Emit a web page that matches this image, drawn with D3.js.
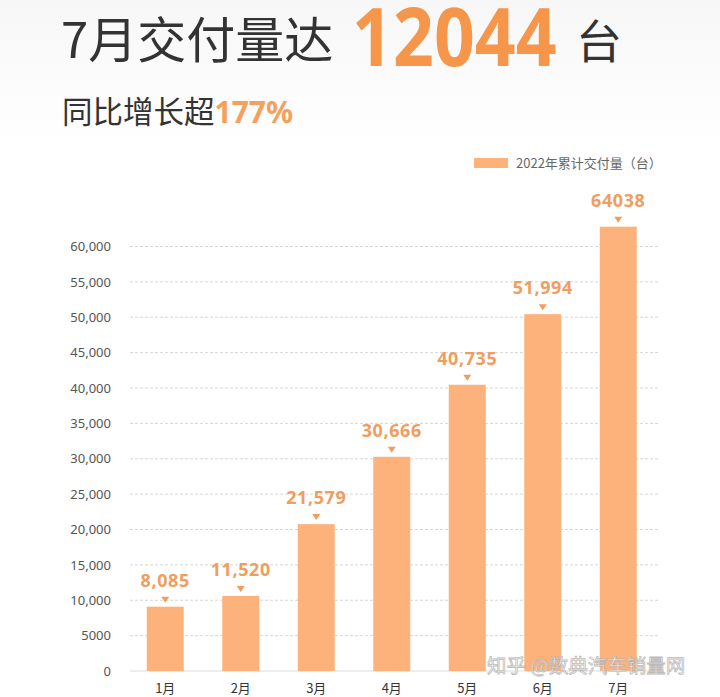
<!DOCTYPE html>
<html>
<head>
<meta charset="utf-8">
<script src="https://cdn.jsdelivr.net/npm/d3@7"></script>
<style>
  html, body { margin: 0; padding: 0; background: #fff; }
  svg { display: block; font-family: 'Noto Sans CJK SC', 'Noto Sans', sans-serif; }
</style>
</head>
<body>
<svg id="chart"></svg>
<script>
'use strict';

/*
    Data
*/

const MONTHS = ['1月', '2月', '3月', '4月', '5月', '6月', '7月'];

// bar heights as drawn in the picture (they do not quite match the printed labels)
const BAR_VALUES = [9090, 10600, 20760, 30280, 40460, 50430, 62800];

// labels printed above the bars
const BAR_LABELS = ['8,085', '11,520', '21,579', '30,666', '40,735', '51,994', '64038'];

const Y_TICKS = [0, 5000, 10000, 15000, 20000, 25000, 30000, 35000, 40000, 45000, 50000, 55000, 60000];
const Y_TICK_LABELS = ['0', '5000', '10,000', '15,000', '20,000', '25,000', '30,000',
                       '35,000', '40,000', '45,000', '50,000', '55,000', '60,000'];

const LEGEND_TEXT = '2022年累计交付量（台）';

/*
    Constants
*/

const WIDTH  = 720;
const HEIGHT = 697;

const PLOT = Object.freeze({
    LEFT   : 130,
    RIGHT  : 660,
    TOP    : 246.5,
    BOTTOM : 671
});

const BAR_COLOR   = '#FDB27C';
const LABEL_COLOR = '#EF9E60';

const SVG = d3.select('#chart')
    .attr('width', WIDTH)
    .attr('height', HEIGHT);

/*
    Background
*/

const defs = SVG.append('defs');
const grad = defs.append('linearGradient')
    .attr('id', 'bg')
    .attr('x1', 0).attr('y1', 0).attr('x2', 0).attr('y2', 1);
grad.append('stop').attr('offset', 0).attr('stop-color', '#f7f7f7');
grad.append('stop').attr('offset', 1).attr('stop-color', '#ffffff');

SVG.append('rect')
    .attr('width', WIDTH)
    .attr('height', 150)
    .attr('fill', 'url(#bg)');

/*
    Titles
*/

SVG.append('text')
    .attr('x', 61)
    .attr('y', 58)
    .attr('fill', '#333')
    .attr('font-size', 49)
    .text('7月交付量达');

// big number, squeezed horizontally like the condensed face in the picture
SVG.append('text')
    .attr('transform', 'translate(352,66) scale(0.895,1)')
    .attr('font-size', 80)
    .attr('font-weight', 700)
    .attr('font-family', 'Noto Sans, sans-serif')
    .attr('fill', '#F5964B')
    .text('12044');

SVG.append('text')
    .attr('x', 576)
    .attr('y', 58)
    .attr('fill', '#333')
    .attr('font-size', 46)
    .text('台');

const subtitle = SVG.append('text')
    .attr('x', 62)
    .attr('y', 123)
    .attr('fill', '#333')
    .attr('font-size', 30.5);

subtitle.append('tspan').text('同比增长超');
subtitle.append('tspan')
    .attr('fill', '#F5A05C')
    .attr('font-weight', 700)
    .attr('font-family', 'Noto Sans, sans-serif')
    .attr('font-size', 30)
    .text('177%');

/*
    Legend
*/

SVG.append('rect')
    .attr('x', 474)
    .attr('y', 158)
    .attr('width', 34)
    .attr('height', 10)
    .attr('fill', BAR_COLOR);

SVG.append('text')
    .attr('x', 516)
    .attr('y', 168)
    .attr('font-size', 13)
    .attr('fill', '#666')
    .text(LEGEND_TEXT);

/*
    Scales
*/

const x = d3.scaleBand()
    .domain(MONTHS)
    .range([127.5, 656])
    .padding(0);

const y = d3.scaleLinear()
    .domain([0, 60000])
    .range([PLOT.BOTTOM, PLOT.TOP]);

const BAR_WIDTH = 37;

/*
    Grid + y axis
*/

SVG.append('g')
    .selectAll('line')
    .data(Y_TICKS.filter(d => d > 0))
    .join('line')
    .attr('x1', PLOT.LEFT)
    .attr('x2', PLOT.RIGHT)
    .attr('y1', d => y(d))
    .attr('y2', d => y(d))
    .attr('stroke', '#d6d6d6')
    .attr('stroke-width', 1)
    .attr('stroke-dasharray', '3,2');

SVG.append('line')
    .attr('x1', PLOT.LEFT)
    .attr('x2', PLOT.RIGHT)
    .attr('y1', y(0))
    .attr('y2', y(0))
    .attr('stroke', '#dcdcdc')
    .attr('stroke-width', 1);

const yAxis = d3.axisLeft(y)
    .tickValues(Y_TICKS)
    .tickFormat((d, i) => Y_TICK_LABELS[i])
    .tickSize(0)
    .tickPadding(0);

SVG.append('g')
    .attr('transform', 'translate(111,0)')
    .call(yAxis)
    .call(g => g.select('.domain').remove())
    .call(g => g.selectAll('text')
        .attr('font-size', 13)
        .attr('fill', '#555')
        .attr('font-family', 'Noto Sans, sans-serif'));

/*
    Bars
*/

const centre = m => x(m) + x.bandwidth() / 2;

SVG.append('g')
    .selectAll('rect')
    .data(BAR_VALUES)
    .join('rect')
    .attr('x', (d, i) => centre(MONTHS[i]) - BAR_WIDTH / 2)
    .attr('y', d => y(d))
    .attr('width', BAR_WIDTH)
    .attr('height', d => y(0) - y(d))
    .attr('fill', BAR_COLOR);

// little down-pointing markers
SVG.append('g')
    .selectAll('path')
    .data(BAR_VALUES)
    .join('path')
    .attr('d', (d, i) => {
        const cx = centre(MONTHS[i]);
        const top = y(d) - 10;
        return `M${cx - 4},${top}L${cx + 4},${top}L${cx},${top + 6}Z`;
    })
    .attr('fill', LABEL_COLOR);

SVG.append('g')
    .selectAll('text')
    .data(BAR_VALUES)
    .join('text')
    .attr('x', (d, i) => centre(MONTHS[i]))
    .attr('y', d => y(d) - 20)
    .attr('text-anchor', 'middle')
    .attr('font-size', 18)
    .attr('font-weight', 700)
    .attr('letter-spacing', 0.6)
    .attr('font-family', 'Noto Sans, sans-serif')
    .attr('fill', LABEL_COLOR)
    .text((d, i) => BAR_LABELS[i]);

/*
    X axis labels
*/

SVG.append('g')
    .selectAll('text')
    .data(MONTHS)
    .join('text')
    .attr('x', d => centre(d))
    .attr('y', 693)
    .attr('text-anchor', 'middle')
    .attr('font-size', 13)
    .attr('fill', '#333')
    .text(d => d);

/*
    Watermark
*/

SVG.append('text')
    .attr('x', 487)
    .attr('y', 673)
    .attr('font-size', 19.5)
    .attr('fill', '#fff')
    .attr('fill-opacity', 0.9)
    .attr('stroke', '#aaa')
    .attr('stroke-width', 0.8)
    .attr('stroke-opacity', 0.8)
    .text('知乎 @数典汽车销量网');
</script>
</body>
</html>
